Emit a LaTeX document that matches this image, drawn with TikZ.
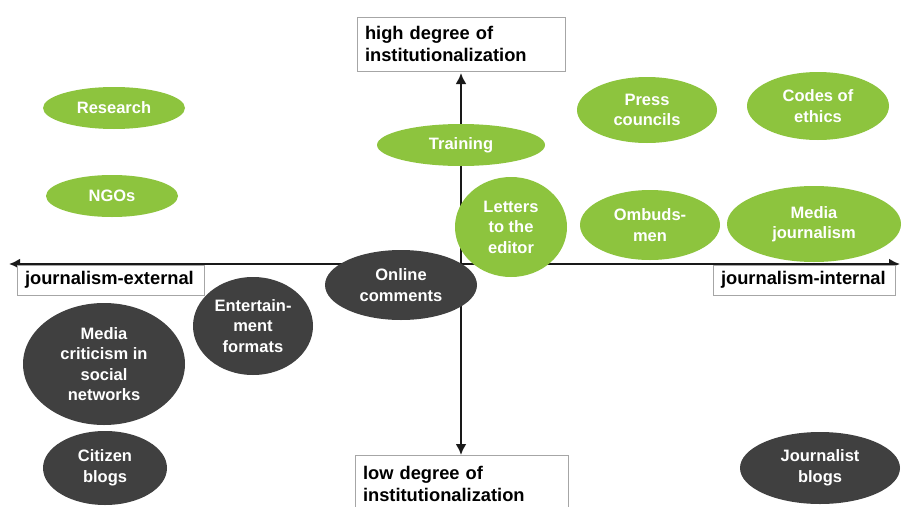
\documentclass[tikz,border=0pt]{standalone}
\usepackage{fontspec}
\setmainfont{Liberation Sans}
\usetikzlibrary{arrows.meta,shapes.geometric}
\definecolor{lgreen}{RGB}{141,196,62}
\definecolor{dgray}{RGB}{64,64,64}
\begin{document}
\begin{tikzpicture}[x=1pt,y=-1pt,
  blob/.style={ellipse, inner sep=0pt, align=center, text=white,
    font=\fontsize{16.5}{20.5}\selectfont\bfseries},
  grn/.style={blob, fill=lgreen},
  drk/.style={blob, fill=dgray},
  lbl/.style={draw=gray!70, line width=0.8pt, fill=white, align=left,
    font=\fontsize{18.3}{22}\selectfont\bfseries, inner xsep=8pt, text=black},
  axis/.style={draw=black!90, line width=2.8pt,
    {Latex[length=11pt,width=11pt]}-{Latex[length=11pt,width=11pt]}}]
\clip (0,0) rectangle (902,506);
\fill[white] (0,0) rectangle (902,506);
% axes
\coordinate (xl) at (9,264);
\coordinate (xr) at (900,264);
\coordinate (yt) at (461,73);
\coordinate (yb) at (461,455);
\draw[axis] (xl) -- (xr);
\draw[axis] (yt) -- (yb);
% axis labels
\node[lbl, text width=192pt, minimum height=54pt] (high) at (461,44)
  {high degree of\\institutionalization};
\node[lbl, text width=197pt, minimum height=58pt] (low) at (461.5,484)
  {low degree of\\institutionalization};
\node[lbl, text width=171pt, minimum height=30pt] (ext) at (110.5,280)
  {journalism-external};
\node[lbl, text width=166pt, minimum height=30pt] (int) at (804,280)
  {journalism-internal};
% green ellipses
\node[grn, minimum width=142pt, minimum height=42pt] (research) at (114,108) {Research};
\node[grn, minimum width=132pt, minimum height=42pt] (ngos) at (112,196) {NGOs};
\node[grn, minimum width=168pt, minimum height=42pt] (training) at (461,145) {Training};
\node[grn, minimum width=140pt, minimum height=66pt] (press) at (647,110) {Press\\councils};
\node[grn, minimum width=142pt, minimum height=68pt] (codes) at (818,106) {Codes of\\ethics};
\node[grn, minimum width=112pt, minimum height=100pt] (letters) at (511,227) {Letters\\to the\\editor};
\node[grn, minimum width=140pt, minimum height=70pt] (ombuds) at (650,225) {Ombuds-\\men};
\node[grn, minimum width=174pt, minimum height=76pt] (mediaj) at (814,224) {Media\\journalism};
% dark ellipses
\node[drk, minimum width=152pt, minimum height=70pt] (online) at (401,285) {Online\\comments};
\node[drk, minimum width=120pt, minimum height=98pt] (entert) at (253,326) {Entertain-\\ment\\formats};
\node[drk, minimum width=162pt, minimum height=122pt] (mcrit) at (104,364) {Media\\criticism in\\social\\networks};
\node[drk, minimum width=124pt, minimum height=74pt] (citizen) at (105,468) {Citizen\\blogs};
\node[drk, minimum width=160pt, minimum height=72pt] (jblogs) at (820,468) {Journalist\\blogs};
\end{tikzpicture}
\end{document}
